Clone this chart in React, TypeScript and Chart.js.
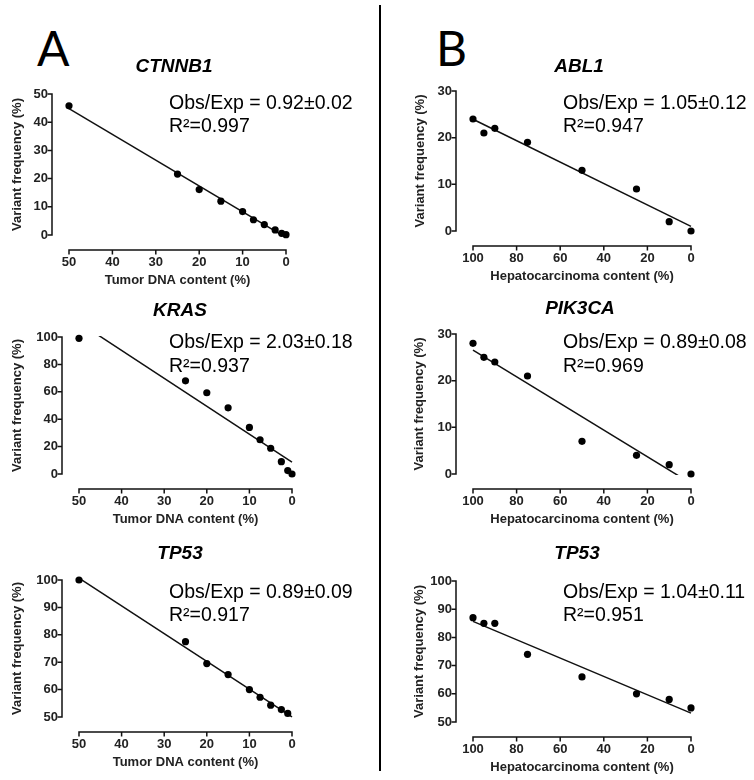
import React, { useEffect, useRef } from "react";
import { Chart, registerables } from "chart.js";

Chart.register(...registerables);
Chart.defaults.font.family = "'Liberation Sans', Arial, Helvetica, sans-serif";

// ---------- DATA ----------
const tumorContentA = [50, 25, 20, 15, 10, 7.5, 5, 2.5, 1, 0];
const ctnnb1Freq = [45.8, 21.6, 16.1, 12, 8.3, 5.4, 3.7, 1.8, 0.6, 0.1];
const krasFreq = [99, 68, 59.3, 48.3, 34, 25, 18.8, 9, 2.5, 0];
const tumorContentTP53 = [50, 25, 20, 15, 10, 7.5, 5, 2.5, 1];
const tp53AFreq = [100, 77.5, 69.5, 65.5, 60, 57.2, 54.3, 52.7, 51.3];

const hccContent = [100, 95, 90, 75, 50, 25, 10, 0];
const abl1Freq = [24, 21, 22, 19, 13, 9, 2, 0];
const pik3caFreq = [28, 25, 24, 21, 7, 4, 2, 0];
const tp53BFreq = [87, 85, 85, 74, 66, 60, 58, 55];

const genes = ["CTNNB1", "KRAS", "TP53", "ABL1", "PIK3CA", "TP53"];
const obsExpLabels = [
  "Obs/Exp = 0.92±0.02",
  "Obs/Exp = 2.03±0.18",
  "Obs/Exp = 0.89±0.09",
  "Obs/Exp = 1.05±0.12",
  "Obs/Exp = 0.89±0.08",
  "Obs/Exp = 1.04±0.11",
];
const r2Labels = ["R²=0.997", "R²=0.937", "R²=0.917", "R²=0.947", "R²=0.969", "R²=0.951"];
const xTitleA = "Tumor DNA content (%)";
const xTitleB = "Hepatocarcinoma content (%)";
const yTitle = "Variant frequency (%)";

// axis ranges [min, max, step]
const xRangeA = [0, 50, 10];
const xRangeB = [0, 100, 20];
const yRanges = [
  [0, 50, 10],
  [0, 100, 20],
  [50, 100, 10],
  [0, 30, 10],
  [0, 30, 10],
  [50, 100, 10],
];

// ---------- LAYOUT (page coordinates) ----------
type Layout = {
  l: number; r: number; t: number; b: number; // chart area
  yTitleX: number; titleX: number; titleY: number;
  textX: number; textY1: number; textY2: number; right: number;
};
const layouts: Layout[] = [
  { l: 69, r: 286, t: 94, b: 235, yTitleX: 18, titleX: 174, titleY: 67, textX: 169, textY1: 109, textY2: 132, right: 377 },
  { l: 79, r: 292, t: 337, b: 474, yTitleX: 18, titleX: 180, titleY: 311, textX: 169, textY1: 348, textY2: 372, right: 377 },
  { l: 79, r: 292, t: 580, b: 717, yTitleX: 18, titleX: 180, titleY: 554, textX: 169, textY1: 598, textY2: 621, right: 377 },
  { l: 473, r: 691, t: 91, b: 231, yTitleX: 421, titleX: 579, titleY: 67, textX: 563, textY1: 109, textY2: 132, right: 754 },
  { l: 473, r: 691, t: 334, b: 474, yTitleX: 420, titleX: 580, titleY: 309, textX: 563, textY1: 348, textY2: 372, right: 754 },
  { l: 473, r: 691, t: 581, b: 722, yTitleX: 420, titleX: 577, titleY: 554, textX: 563, textY1: 598, textY2: 621, right: 754 },
];

const GAP_Y = 17;
const GAP_X = 15;
const INK = "#111";
const LBL_FONT = 13;
const LBL_HALF_LH = (LBL_FONT * 1.2) / 2;

function regression(xs: number[], ys: number[]) {
  const n = xs.length;
  const mx = xs.reduce((a, b) => a + b, 0) / n;
  const my = ys.reduce((a, b) => a + b, 0) / n;
  let sxx = 0, sxy = 0;
  for (let i = 0; i < n; i++) {
    sxx += (xs[i] - mx) ** 2;
    sxy += (xs[i] - mx) * (ys[i] - my);
  }
  const slope = sxy / sxx;
  return { slope, intercept: my - slope * mx };
}

const gpPlugin = {
  id: "gpPlugin",
  afterDraw(chart: any, _args: any, opts: any) {
    const { ctx, chartArea, scales } = chart;
    const xs = scales.x, ys = scales.y;
    ctx.save();
    ctx.strokeStyle = INK;
    ctx.lineWidth = 1.5;
    ctx.lineCap = "butt";
    ctx.beginPath();
    const ax = chartArea.left - GAP_Y;
    ctx.moveTo(ax, ys.getPixelForValue(ys.max) - 0.75);
    ctx.lineTo(ax, ys.getPixelForValue(ys.min) + 0.75);
    ys.ticks.forEach((t: any) => {
      const p = ys.getPixelForValue(t.value);
      ctx.moveTo(ax - 4.5, p);
      ctx.lineTo(ax, p);
    });
    const ay = chartArea.bottom + GAP_X;
    ctx.moveTo(xs.getPixelForValue(xs.max) - 0.75, ay);
    ctx.lineTo(xs.getPixelForValue(xs.min) + 0.75, ay);
    xs.ticks.forEach((t: any) => {
      const p = xs.getPixelForValue(t.value);
      ctx.moveTo(p, ay);
      ctx.lineTo(p, ay + 4.5);
    });
    ctx.stroke();

    ctx.fillStyle = "#000";
    ctx.font = "italic bold 19px 'Liberation Sans', Arial, sans-serif";
    ctx.textAlign = "center";
    ctx.textBaseline = "middle";
    ctx.fillText(opts.gene, opts.titleX, opts.titleY);

    ctx.font = "19.5px 'Liberation Sans', Arial, sans-serif";
    ctx.textAlign = "left";
    ctx.textBaseline = "alphabetic";
    ctx.fillText(opts.obs, opts.textX, opts.textY1);
    ctx.fillText(opts.r2, opts.textX, opts.textY2);
    ctx.restore();
  },
};

type PanelProps = {
  xs: number[]; ys: number[]; xRange: number[]; yRange: number[];
  gene: string; obs: string; r2: string; xTitle: string; lay: Layout;
};

function Panel({ xs, ys, xRange, yRange, gene, obs, r2, xTitle, lay }: PanelProps) {
  const ref = useRef<HTMLCanvasElement>(null);
  const cl = Math.round(lay.yTitleX - LBL_HALF_LH);
  const ct = Math.round(lay.titleY - 16);
  const cr = lay.right;
  const H = Math.round(lay.b + 45 + LBL_HALF_LH - ct);
  const W = cr - cl;

  useEffect(() => {
    if (!ref.current) return;
    const fit = regression(xs, ys);
    const fitLine = [xRange[0], xRange[1]].map((x) => ({ x, y: fit.intercept + fit.slope * x }));
    const points = xs.map((x, i) => ({ x, y: ys[i] }));
    const tickFont = { size: LBL_FONT, weight: "bold" as const };
    const chart = new Chart(ref.current, {
      type: "scatter",
      data: {
        datasets: [
          {
            data: fitLine,
            showLine: true,
            borderColor: INK,
            borderWidth: 1.5,
            pointRadius: 0,
            clip: 1,
            order: 2,
          } as any,
          {
            data: points,
            pointRadius: 3.6,
            pointBackgroundColor: "#000",
            pointBorderWidth: 0,
            clip: false,
            order: 1,
          } as any,
        ],
      },
      options: {
        responsive: false,
        animation: false,
        events: [],
        layout: { padding: { left: 0, top: lay.t - ct, right: cr - lay.r, bottom: 0 } },
        plugins: {
          legend: { display: false },
          tooltip: { enabled: false },
          gpPlugin: {
            gene,
            obs,
            r2,
            titleX: lay.titleX - cl,
            titleY: lay.titleY - ct,
            textX: lay.textX - cl,
            textY1: lay.textY1 - ct,
            textY2: lay.textY2 - ct,
          },
        } as any,
        scales: {
          x: {
            type: "linear",
            position: "bottom",
            reverse: true,
            min: xRange[0],
            max: xRange[1],
            ticks: { stepSize: xRange[2], font: tickFont, color: "#222", padding: 20, maxRotation: 0 },
            grid: { display: false, drawTicks: false },
            border: { display: false },
            title: { display: true, text: xTitle, font: tickFont, color: "#222", padding: 0 },
            afterFit: (s: any) => { s.height = ct + H - lay.b; },
          },
          y: {
            type: "linear",
            min: yRange[0],
            max: yRange[1],
            ticks: { stepSize: yRange[2], font: tickFont, color: "#222", padding: 21 },
            grid: { display: false, drawTicks: false },
            border: { display: false },
            title: { display: true, text: yTitle, font: tickFont, color: "#222", padding: 0 },
            afterFit: (s: any) => { s.width = lay.l - cl; },
          },
        },
      } as any,
      plugins: [gpPlugin],
    });
    return () => chart.destroy();
  }, []);

  return (
    <canvas
      ref={ref}
      width={W}
      height={H}
      style={{ position: "absolute", left: cl, top: ct, width: W, height: H }}
    />
  );
}

export default function App() {
  const series = [
    { xs: tumorContentA, ys: ctnnb1Freq, xRange: xRangeA, xTitle: xTitleA },
    { xs: tumorContentA, ys: krasFreq, xRange: xRangeA, xTitle: xTitleA },
    { xs: tumorContentTP53, ys: tp53AFreq, xRange: xRangeA, xTitle: xTitleA },
    { xs: hccContent, ys: abl1Freq, xRange: xRangeB, xTitle: xTitleB },
    { xs: hccContent, ys: pik3caFreq, xRange: xRangeB, xTitle: xTitleB },
    { xs: hccContent, ys: tp53BFreq, xRange: xRangeB, xTitle: xTitleB },
  ];
  const letterStyle: React.CSSProperties = {
    position: "absolute",
    fontFamily: "Lato, 'Liberation Sans', sans-serif",
    fontSize: 48,
    lineHeight: "48px",
    color: "#000",
    margin: 0,
  };
  return (
    <div style={{ position: "absolute", left: 0, top: 0, width: 754, height: 780, background: "#fff", overflow: "hidden" }}>
      <div style={{ ...letterStyle, left: 37, top: 24 }}>A</div>
      <div style={{ ...letterStyle, left: 436, top: 24 }}>B</div>
      <div style={{ position: "absolute", left: 379, top: 5, width: 2, height: 766, background: "#000" }} />
      {series.map((s, i) => (
        <Panel
          key={i}
          xs={s.xs}
          ys={s.ys}
          xRange={s.xRange}
          yRange={yRanges[i]}
          gene={genes[i]}
          obs={obsExpLabels[i]}
          r2={r2Labels[i]}
          xTitle={s.xTitle}
          lay={layouts[i]}
        />
      ))}
    </div>
  );
}
